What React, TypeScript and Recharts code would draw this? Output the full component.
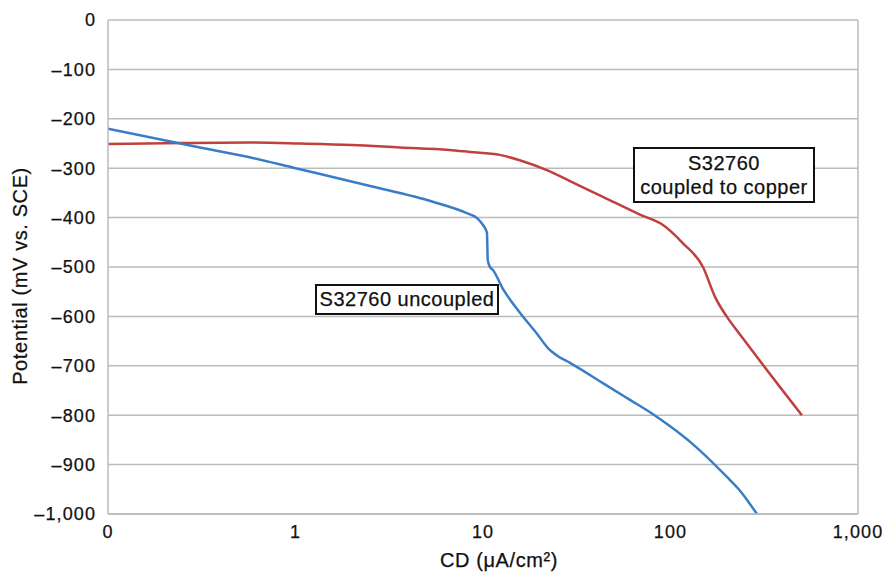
import React from 'react'
import {
  LineChart,
  Line,
  XAxis,
  YAxis,
  CartesianGrid,
  ReferenceLine,
} from 'recharts'

// S32760 uncoupled (blue)
const uncoupledCD = [
  0.1, 0.3, 0.57, 1, 2.5, 5.4, 8.2, 9.3, 10, 10.5, 10.55, 10.6, 10.9, 11.3,
  12.8, 15.7, 19.4, 22.2, 25, 29.1, 43.6, 60.8, 80.7, 100, 130, 200, 230, 260,
  289,
]
const uncoupledPotential = [
  -220, -257, -278, -300, -336, -368, -391, -401, -415, -431, -460, -486, -500,
  -506, -545, -592, -635, -664, -680, -694, -735, -769, -798, -823, -857, -925,
  -949, -975, -1000,
]

// S32760 coupled to copper (red)
const coupledCD = [
  0.1, 0.25, 0.57, 1.06, 2, 3.6, 6.6, 8.5, 12.3, 15.7, 21.9, 29.1, 43.6, 69.6,
  91.2, 116.6, 149, 173, 200, 232, 311, 502,
]
const coupledPotential = [
  -251, -249, -248, -250, -253, -258, -263, -267, -273, -284, -304, -326, -358,
  -395, -415, -452, -500, -561, -601, -634, -698, -800,
]

const xTicks = [0.1, 1, 10, 100, 1000]
const xMinorTicks = [
  0.2, 0.3, 0.4, 0.5, 0.6, 0.7, 0.8, 0.9, 2, 3, 4, 5, 6, 7, 8, 9, 20, 30, 40,
  50, 60, 70, 80, 90, 200, 300, 400, 500, 600, 700, 800, 900,
]
const yTicks = [0, -100, -200, -300, -400, -500, -600, -700, -800, -900, -1000]

const uncoupled = uncoupledCD.map((x, i) => ({ x, y: uncoupledPotential[i] }))
const coupled = coupledCD.map((x, i) => ({ x, y: coupledPotential[i] }))

const font = '"Liberation Sans", Arial, sans-serif'
const gray = '#bbbbbb'
const ink = '#111'

const fmtX = (v: number) => (v < 1 ? '0' : v.toLocaleString('en-US'))
const fmtY = (v: number) =>
  v === 0 ? '0' : '\u2013' + Math.abs(v).toLocaleString('en-US')

const css = `
.recharts-cartesian-axis-tick-value { letter-spacing: 1.1px; stroke: ${ink}; stroke-width: 0.25px; }
`

const boxStyle: React.CSSProperties = {
  position: 'absolute',
  border: '2px solid ' + ink,
  background: '#fff',
  fontFamily: font,
  fontSize: 20,
  letterSpacing: 0.5,
  color: ink,
  textAlign: 'center',
  boxSizing: 'border-box',
  WebkitTextStroke: '0.25px ' + ink,
}

const titleStyle: React.CSSProperties = {
  position: 'absolute',
  fontFamily: font,
  fontSize: 20,
  letterSpacing: 0.6,
  color: ink,
  whiteSpace: 'nowrap',
  WebkitTextStroke: '0.25px ' + ink,
}

export default function App() {
  return (
    <div style={{ position: 'absolute', left: 0, top: 0, width: 883, height: 573 }}>
      <style>{css}</style>
      <LineChart
        width={883}
        height={573}
        margin={{ top: 20, right: 25, bottom: 0, left: 0 }}
        style={{ fontFamily: font }}
      >
        <CartesianGrid vertical={false} stroke={gray} strokeWidth={1.5} />
        <XAxis
          xAxisId="minor"
          dataKey="x"
          type="number"
          scale="log"
          domain={[0.1, 1000]}
          ticks={xMinorTicks}
          allowDataOverflow
          height={0}
          mirror
          tickSize={3}
          tickFormatter={() => ''}
          axisLine={false}
          tickLine={{ stroke: gray }}
        />
        <XAxis
          dataKey="x"
          type="number"
          scale="log"
          domain={[0.1, 1000]}
          ticks={xTicks}
          allowDataOverflow
          height={59}
          tickFormatter={fmtX}
          tickLine={false}
          axisLine={{ stroke: gray, strokeWidth: 1.5 }}
          tick={{ fill: ink, fontSize: 18 }}
          tickMargin={5}
        />
        <YAxis
          type="number"
          domain={[-1000, 0]}
          ticks={yTicks}
          width={108}
          tickFormatter={fmtY}
          tickLine={false}
          axisLine={{ stroke: gray, strokeWidth: 1.5 }}
          tick={{ fill: ink, fontSize: 18 }}
          tickMargin={6}
        />
        <ReferenceLine x={1000} stroke={gray} strokeWidth={1.5} />
        <Line
          data={coupled}
          dataKey="y"
          type="monotone"
          stroke="#c0403d"
          strokeWidth={2.5}
          dot={false}
          isAnimationActive={false}
        />
        <Line
          data={uncoupled}
          dataKey="y"
          type="monotone"
          stroke="#3a7dc7"
          strokeWidth={2.5}
          dot={false}
          isAnimationActive={false}
        />
      </LineChart>
      <div
        style={{
          ...titleStyle,
          left: 20,
          top: 276,
          transform: 'translate(-50%, -50%) rotate(-90deg)',
        }}
      >
        Potential (mV vs. SCE)
      </div>
      <div style={{ ...titleStyle, left: 499, top: 560, transform: 'translate(-50%, -50%)' }}>
        CD (μA/cm²)
      </div>
      <div style={{ ...boxStyle, left: 315, top: 284, width: 184, height: 31, lineHeight: '27px' }}>
        S32760 uncoupled
      </div>
      <div
        style={{
          ...boxStyle,
          left: 633,
          top: 147,
          width: 182,
          height: 56,
          lineHeight: '24px',
          paddingTop: 2,
        }}
      >
        S32760
        <br />
        coupled to copper
      </div>
    </div>
  )
}
